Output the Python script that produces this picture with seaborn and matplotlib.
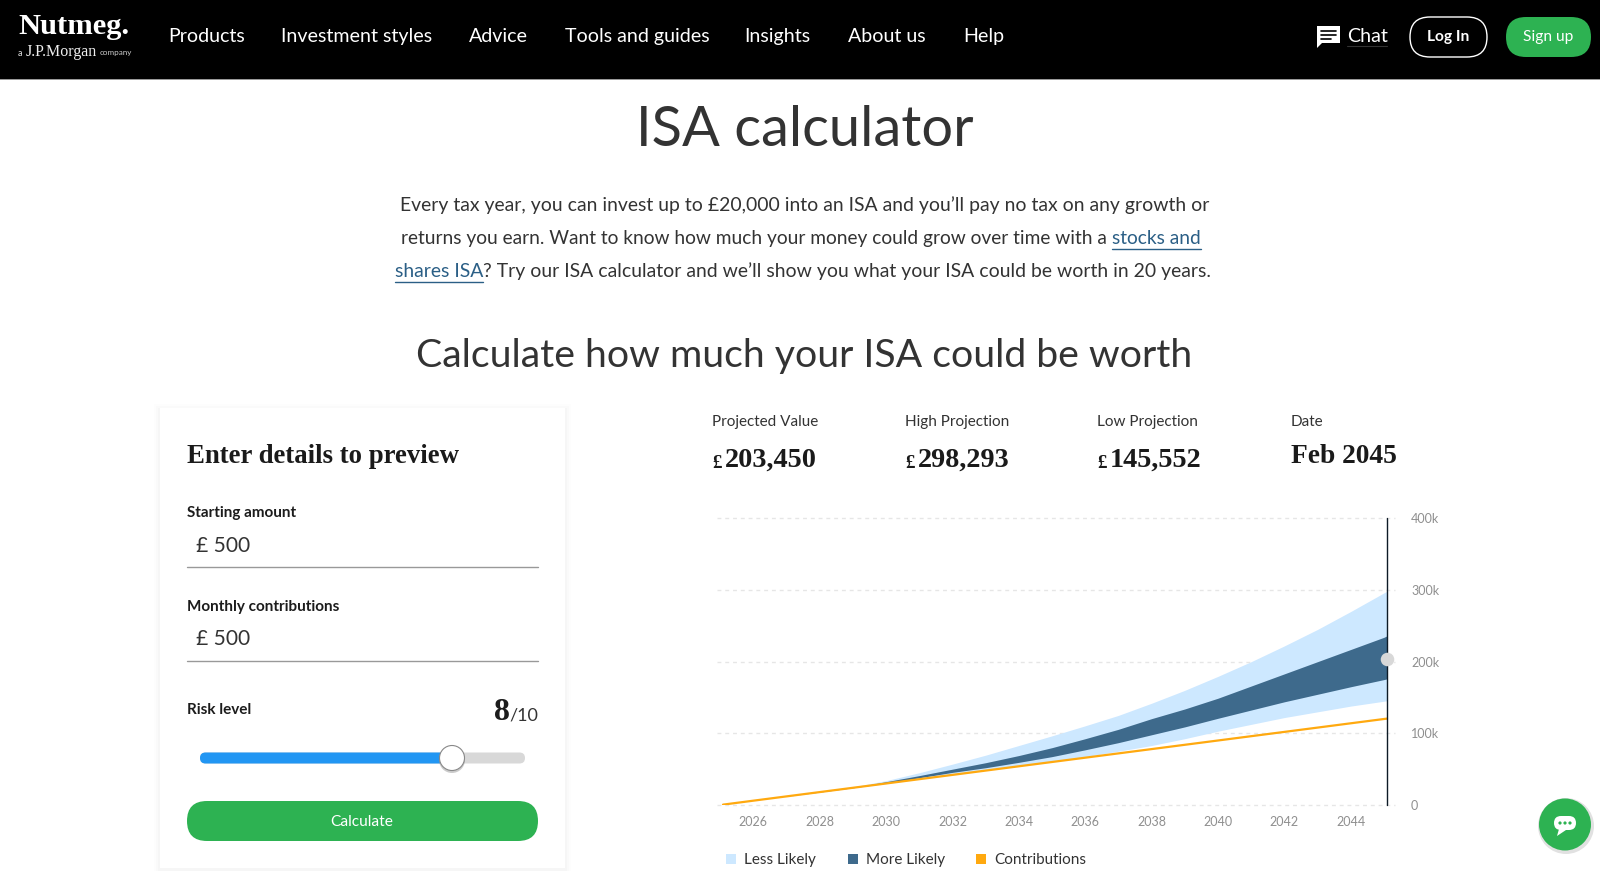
# ISA calculator page, chart drawn with seaborn and the page around it in pixel coords
import matplotlib
matplotlib.use("Agg")
import matplotlib.pyplot as plt
import numpy as np
import pandas as pd
import seaborn as sns
from matplotlib.patches import Circle, FancyBboxPatch, Polygon, Rectangle

# %% data (values in thousands of pounds)
years = [2025.09, 2026, 2027, 2028, 2029, 2030, 2031, 2032, 2033, 2034, 2035, 2036,
         2037, 2038, 2039, 2040, 2041, 2042, 2043, 2044, 2045, 2045.09]
contributions = [0.5, 6, 12, 18, 24, 30, 36, 42, 48, 54, 60, 66,
                 72, 78, 84, 90, 96, 102, 108, 114, 120, 120.5]
low_projection = [0.5, 6, 12, 18, 24, 30, 36.5, 43, 48.5, 54.5, 61, 67.5,
                  75, 83, 92.5, 103, 112.5, 122, 130, 138, 144.8, 145.5]
more_likely_low = [0.5, 6, 12, 18, 24, 30.5, 38, 45.5, 52, 59.5, 67.5, 77,
                   87, 98, 109, 121, 132.5, 144, 154.5, 165, 175, 176]
more_likely_high = [0.5, 6, 12, 18.3, 24.3, 32.5, 41, 50, 59, 69, 80, 92.5,
                    105.6, 120.5, 134, 149, 166, 183, 200, 217, 234, 236]
high_projection = [0.5, 6, 12, 18.3, 25.2, 34, 45, 57, 69.5, 83, 96.5, 110.5,
                   125, 142, 160, 179.5, 200, 222, 245, 270, 296, 298.3]
projected_value = 203.45

x_ticks = [2026, 2028, 2030, 2032, 2034, 2036, 2038, 2040, 2042, 2044]
y_ticks = [0, 100, 200, 300, 400]
y_labels = ["0", "100k", "200k", "300k", "400k"]

nav_items = ["Products", "Investment styles", "Advice", "Tools and guides", "Insights", "About us", "Help"]
nav_x = [168, 281, 469, 565, 744, 848, 963]
stat_labels = ["Projected Value", "High Projection", "Low Projection", "Date"]
stat_values = ["203,450", "298,293", "145,552"]
stat_x = [712, 905, 1097, 1291]
legend_labels = ["Less Likely", "More Likely", "Contributions"]
legend_x = [731, 853, 981]

LIGHT = "#CDE8FF"
DARK = "#3E6A8C"
ORANGE = "#FFA90F"
GREEN = "#2DB252"
INK = "#1c1c1c"
SANS = "Lato"
SERIF = "Liberation Serif"

sns.set_theme(style="white")
plt.rcParams["font.family"] = [SANS, "DejaVu Sans"]

fig = plt.figure(figsize=(16, 8.71), dpi=100, facecolor="white")
ui = fig.add_axes([0, 0, 1, 1])
ui.set_xlim(0, 1600)
ui.set_ylim(871, 0)
ui.axis("off")


def px(size):
    return size * 0.72


def label(x, y, s, size, color=INK, ha="left", va="center", weight="normal", family=SANS):
    return ui.text(x, y, s, fontsize=px(size), color=color, ha=ha, va=va, weight=weight, family=family)


def pill(x0, y0, x1, y1, face, edge="none", lw=0, z=2):
    r = (y1 - y0) / 2
    ui.add_patch(FancyBboxPatch((x0 + r, y0 + r), x1 - x0 - 2 * r, 0.001,
                                boxstyle=f"round,pad={r},rounding_size={r}",
                                fc=face, ec=edge, lw=lw, zorder=z))


def runs(y, x, parts, size):
    # text pieces side by side, the link ones underlined
    rend = fig.canvas.get_renderer()
    for s, is_link in parts:
        t = label(x, y, s, size, color="#2B5F86" if is_link else "#333333")
        w = t.get_window_extent(rend).width
        if is_link:
            ui.plot([x, x + w], [y + 11, y + 11], color="#2B5F86", lw=1.0)
        x += w


# header
ui.add_patch(Rectangle((0, 0), 1600, 79, fc="black", ec="none"))
ui.add_patch(Rectangle((0, 79), 1600, 1, fc="#999999", ec="none"))
label(18, 26, "Nutmeg.", 30.5, "white", weight="bold", family=SERIF)
label(18, 53, "a", 9, "#dddddd")
label(26, 52, "J.P.Morgan", 16, "#eeeeee", family=SERIF)
label(100, 53, "company", 8, "#cccccc")
for name, x in zip(nav_items, nav_x):
    label(x, 36.5, name, 19.7, "white")
ui.add_patch(Rectangle((1317, 26), 23, 17, fc="white", ec="none"))
ui.add_patch(Polygon([[1317, 42], [1317, 48], [1323, 42]], fc="white", ec="none"))
for yy, xe in zip([31, 35, 39], [1336, 1336, 1331]):
    ui.plot([1321, xe], [yy, yy], color="black", lw=1.2)
label(1347, 36.5, "Chat", 19.7, "white")
ui.plot([1347, 1387], [46, 46], color="#333333", lw=0.8)
pill(1410, 17, 1487, 57, "black", "white", 1.0)
label(1448, 36.5, "Log In", 15.5, "white", ha="center", weight="bold")
pill(1506, 17, 1591, 57, GREEN)
label(1548, 36.5, "Sign up", 15.5, "white", ha="center")

# intro text
label(805, 131, "ISA calculator", 56, "#333333", ha="center")
runs(205, 400, [("Every tax year, you can invest up to £20,000 into an ISA and you’ll pay no tax on any growth or", False)], 19.35)
runs(238, 401, [("returns you earn. Want to know how much your money could grow over time with a ", False), ("stocks and", True)], 19.2)
runs(271, 395, [("shares ISA", True), ("? Try our ISA calculator and we’ll show you what your ISA could be worth in 20 years.", False)], 19.4)
label(804, 356, "Calculate how much your ISA could be worth", 39.2, "#333333", ha="center")

# form card, soft shadow made of a few faint layers
for grow, alpha in zip([6, 4, 2], [0.006, 0.01, 0.014]):
    ui.add_patch(Rectangle((160 - grow, 408 - grow + 2), 405 + 2 * grow, 460 + 2 * grow,
                           fc="black", ec="none", alpha=alpha))
ui.add_patch(Rectangle((160, 408), 405, 460, fc="white", ec="none"))
label(187, 456, "Enter details to preview", 26.8, "#1a1a1a", weight="bold", family=SERIF)
label(187, 513, "Starting amount", 15.2, weight="bold")
label(196, 546, "£ 500", 21, "#333333")
ui.plot([187, 538], [567, 567], color="#999999", lw=1)
label(187, 607, "Monthly contributions", 15.2, weight="bold")
label(196, 639, "£ 500", 21, "#333333")
ui.plot([187, 538], [661, 661], color="#999999", lw=1)
label(187, 710, "Risk level", 15.2, weight="bold")
label(510, 712, "8", 32, weight="bold", ha="right", family=SERIF)
label(538, 715, "/10", 18, "#333333", ha="right")
pill(200, 752.5, 525, 763.5, "#D8D8D8")
pill(200, 752.5, 452, 763.5, "#2196F3", z=3)
ui.add_patch(Circle((452, 760), 13, fc="#999999", ec="none", alpha=0.5, zorder=4))
ui.add_patch(Circle((452, 758), 12.5, fc="white", ec="#888888", lw=0.8, zorder=5))
pill(187, 801, 538, 841, GREEN)
label(362, 821.5, "Calculate", 15.5, "white", ha="center")

# projection figures
for name, x in zip(stat_labels, stat_x):
    label(x, 422, name, 15.3, "#333333")
for val, x in zip(stat_values, stat_x):
    label(x, 463, "£", 19, "#1a1a1a", weight="bold", family=SERIF)
    label(x + 13, 460, val, 28.2, "#1a1a1a", weight="bold", family=SERIF)
label(stat_x[3], 456, "Feb 2045", 27.5, "#1a1a1a", weight="bold", family=SERIF)

# the chart itself
left, right, top, bottom = 717, 1395, 518.3, 805
ax = fig.add_axes([left / 1600, 1 - bottom / 871, (right - left) / 1600, (bottom - top) / 871])
ax.patch.set_alpha(0)
df = pd.DataFrame({"year": years, "contributions": contributions})
ax.fill_between(years, low_projection, high_projection, color=LIGHT, lw=0, zorder=2)
ax.fill_between(years, more_likely_low, more_likely_high, color=DARK, lw=0, zorder=3)
sns.lineplot(data=df, x="year", y="contributions", color=ORANGE, lw=1.6, ax=ax, zorder=4)
ax.plot([years[-1], years[-1]], [0, 400], color="#0d1a26", lw=1.0, zorder=5, clip_on=False)
ax.scatter([years[-1]], [projected_value], s=95, color="#D8D8D8", lw=0, zorder=6, clip_on=False)

x_per_px = 1 / 33.2
ax.set_xlim(years[0] - (723 - left) * x_per_px, years[-1] + (right - 1387) * x_per_px)
ax.set_ylim(0, 400)
ax.set_xlabel("")
ax.set_ylabel("")
ax.set_xticks(x_ticks)
ax.set_xticklabels(x_ticks)
ax.yaxis.tick_right()
ax.set_yticks(y_ticks)
ax.set_yticklabels(y_labels)
ax.tick_params(axis="both", length=0, labelsize=px(12.5), labelcolor="#8f8f8f")
ax.tick_params(axis="x", pad=8)
ax.tick_params(axis="y", pad=11.5)
ax.grid(axis="y", color="#E6E6E6", ls=(0, (2.8, 2.8)), lw=1, zorder=1)
ax.grid(axis="x", visible=False)
for line in ax.get_ygridlines():
    line.set_clip_on(False)
sns.despine(ax=ax, left=True, bottom=True, right=True, top=True)
for s in ax.get_yticklabels() + ax.get_xticklabels():
    s.set_family(SANS)

# legend under the chart
for name, x, c in zip(legend_labels, legend_x, [LIGHT, DARK, ORANGE]):
    ui.add_patch(Rectangle((x - 5, 854), 10, 10, fc=c, ec="none"))
    label(x + 13, 860, name, 15.3, "#333333")

# chat bubble, bottom right
ui.add_patch(Circle((1566, 826), 28, fc="#888888", ec="none", alpha=0.25, zorder=6))
ui.add_patch(Circle((1565, 824.5), 26, fc=GREEN, ec="none", zorder=7))
ui.add_patch(FancyBboxPatch((1556, 818), 18, 10, boxstyle="round,pad=2,rounding_size=7", fc="white", ec="none", zorder=8))
ui.add_patch(Polygon([[1559, 829], [1557, 836], [1566, 830]], fc="white", ec="none", zorder=8))
for dx in [-5, 0, 5]:
    ui.add_patch(Circle((1565 + dx, 823), 1.6, fc=GREEN, ec="none", zorder=9))

fig.savefig("out.png", dpi=100)
